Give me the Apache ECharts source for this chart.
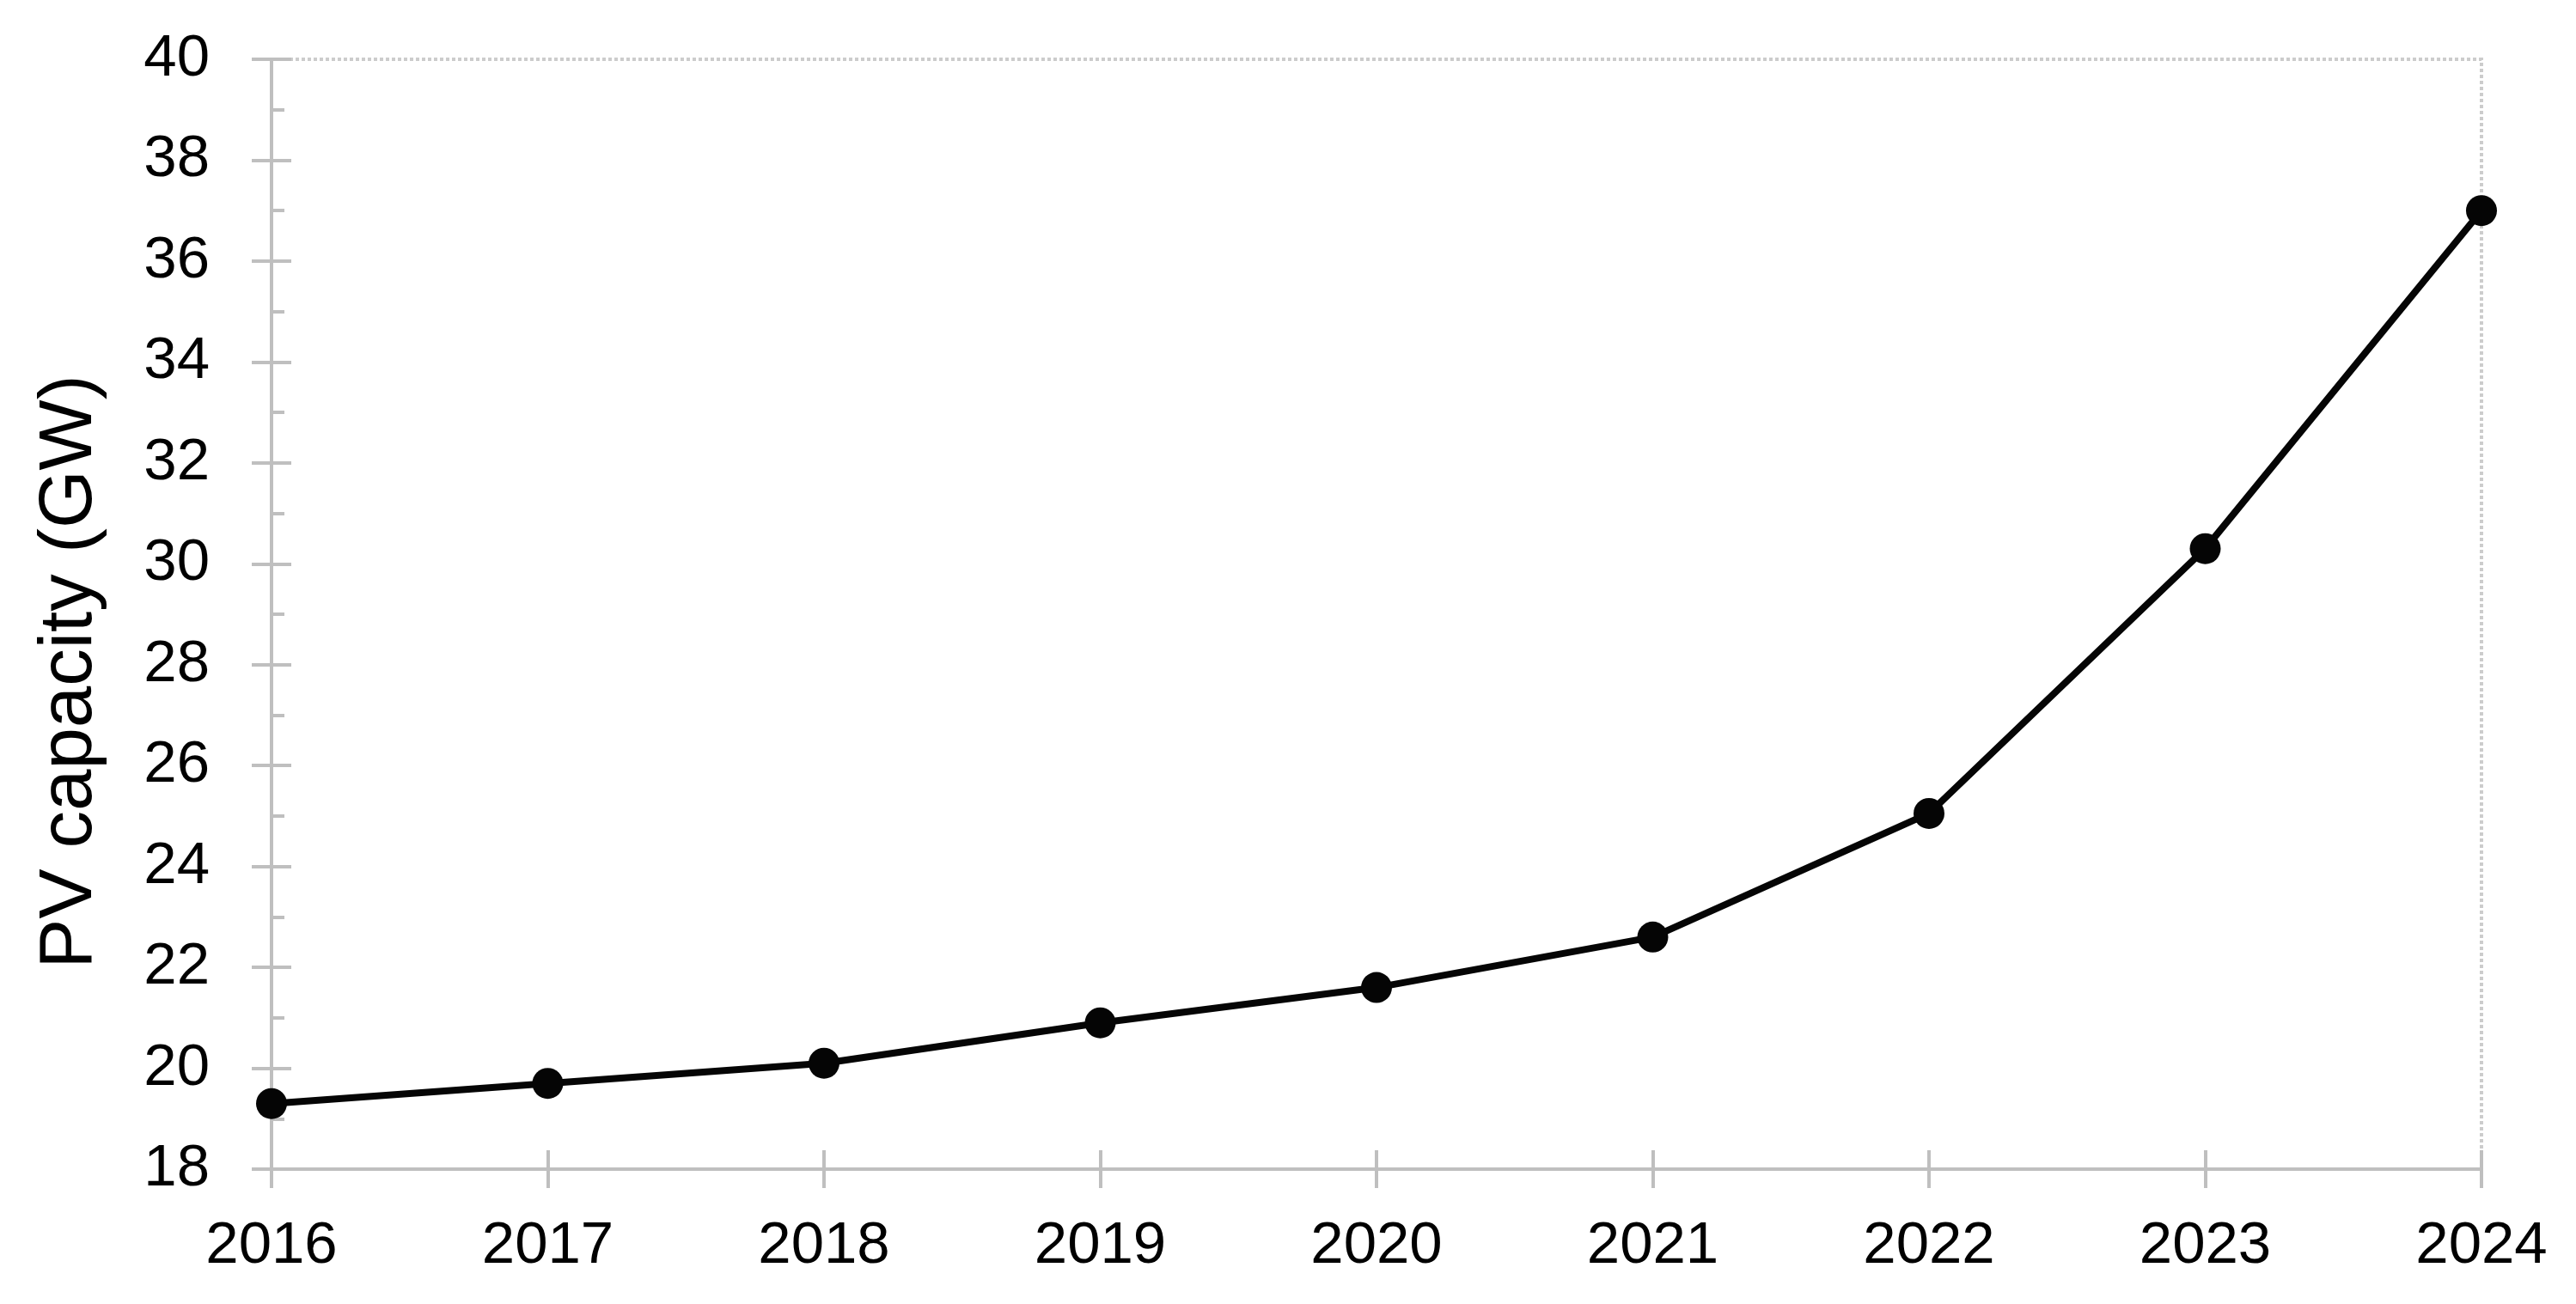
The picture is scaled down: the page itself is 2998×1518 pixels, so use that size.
<!DOCTYPE html>
<html>
<head>
<meta charset="utf-8">
<script src="https://cdn.jsdelivr.net/npm/echarts@6/dist/echarts.min.js"></script>
<style>
  html, body { margin: 0; padding: 0; background: #fff; }
  #chart { width: 2998px; height: 1518px; }
</style>
</head>
<body>
<div id="chart"></div>
<script>
const years = ['2016', '2017', '2018', '2019', '2020', '2021', '2022', '2023', '2024'];
const pvCapacity = [19.3, 19.7, 20.1, 20.9, 21.6, 22.6, 25.05, 30.3, 37.0];
const yAxisTitle = 'PV capacity (GW)';

const FONT = 'Liberation Sans, Arial, sans-serif';
const AXIS_GRAY = '#bfbfbf';

const chart = echarts.init(document.getElementById('chart'), null, { renderer: 'canvas' });
chart.setOption({
  animation: false,
  backgroundColor: '#ffffff',
  grid: {
    left: 316, right: 110, top: 69, bottom: 157,
    show: true, borderColor: '#cccccc', borderWidth: 4, borderType: [4, 3],
    backgroundColor: 'transparent'
  },
  xAxis: [
    {
      type: 'category', data: years, boundaryGap: false, position: 'bottom',
      axisLine: { show: true, lineStyle: { color: AXIS_GRAY, width: 4 } },
      axisTick: { show: true, alignWithLabel: true, length: 22, inside: false, lineStyle: { color: AXIS_GRAY, width: 4 } },
      axisLabel: { color: '#000', fontFamily: FONT, fontSize: 69, margin: 55 },
      splitLine: { show: false }
    },
    {
      type: 'category', data: years, boundaryGap: false, position: 'bottom',
      axisLine: { show: false },
      axisTick: { show: true, length: 22, inside: true, lineStyle: { color: AXIS_GRAY, width: 4 } },
      axisLabel: { show: false },
      splitLine: { show: false }
    }
  ],
  yAxis: [
    {
      type: 'value', min: 18, max: 40, interval: 2, position: 'left',
      name: yAxisTitle, nameLocation: 'middle', nameGap: 190, nameRotate: 90,
      nameTextStyle: { color: '#000', fontFamily: FONT, fontSize: 87, padding: [0, 134, 0, 0] },
      axisLine: { show: true, lineStyle: { color: AXIS_GRAY, width: 4 } },
      axisTick: { show: true, length: 23, inside: false, lineStyle: { color: AXIS_GRAY, width: 4 } },
      axisLabel: { color: '#000', fontFamily: FONT, fontSize: 69, margin: 72 },
      splitLine: { show: false }
    },
    {
      type: 'value', min: 18, max: 40, interval: 2, position: 'left',
      axisLine: { show: false },
      axisTick: { show: true, length: 23, inside: true, lineStyle: { color: AXIS_GRAY, width: 4 } },
      minorTick: { show: true, splitNumber: 2, length: 15, lineStyle: { color: AXIS_GRAY, width: 4 } },
      axisLabel: { show: false },
      splitLine: { show: false }
    }
  ],
  series: [{
    type: 'line', data: pvCapacity, xAxisIndex: 0, yAxisIndex: 0,
    symbol: 'circle', symbolSize: 36,
    lineStyle: { color: '#050505', width: 8 },
    itemStyle: { color: '#050505' },
    z: 5
  }]
});
</script>
</body>
</html>
